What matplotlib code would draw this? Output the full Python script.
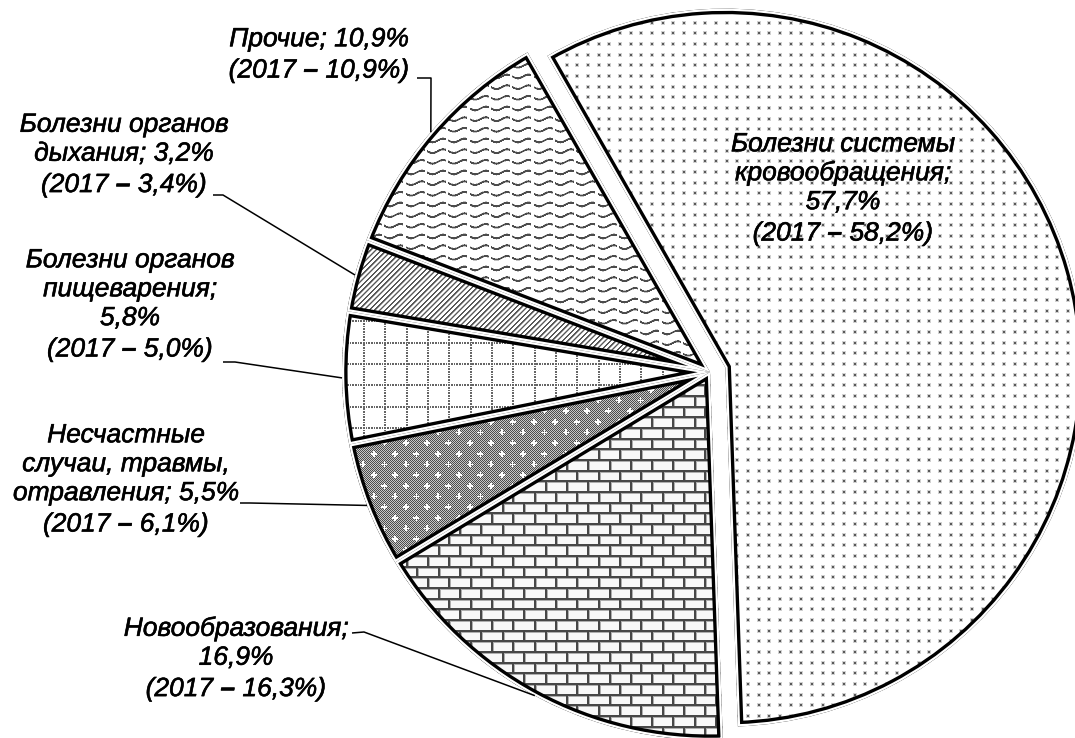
import matplotlib
matplotlib.use('Agg')
import matplotlib.pyplot as plt
from matplotlib.patches import Wedge
import matplotlib.patheffects as pe
import numpy as np

plt.rcParams['mathtext.fontset'] = 'custom'
plt.rcParams['mathtext.bf'] = 'Liberation Sans:italic:bold'
plt.rcParams['mathtext.rm'] = 'Liberation Sans:italic'
plt.rcParams['mathtext.it'] = 'Liberation Sans:italic'

# ─── data ─────────────────────────────────────────────────────────────────────

names = ['Болезни системы\nкровообращения', 'Прочие', 'Болезни органов\nдыхания',
         'Болезни органов\nпищеварения', 'Несчастные\nслучаи, травмы,\nотравления',
         'Новообразования']
share_2018 = [57.7, 10.9, 3.2, 5.8, 5.5, 16.9]
share_2017 = [58.2, 10.9, 3.4, 5.0, 6.1, 16.3]

# ─── layout (pixel coords, y from top) ────────────────────────────────────────

W, H = 1075, 738
CX, CY, R = 710, 372, 368
EXPLODE = 16          # px, first slice pulled out
name_sep = [';\n', '; ', '; ', ';\n', '; ', ';\n']
label_xy = [(843, 190), (319, 56), (124, 156), (130, 306), (126, 481), (236, 660)]
leader_from = [None, (417, 78), (213, 195), (223, 362), (240, 503), (352, 633)]
leader_elbow = [None, (431, 78), (223, 195), (235, 362), (250, 503), (364, 632)]


def pct(v):
    return f'{v:.1f}'.replace('.', ',') + '%'


labels = [f'{n}{s}{pct(a)}\n(2017' + r' $\mathbf{–}$ ' + f'{pct(b)})'
          for n, s, a, b in zip(names, name_sep, share_2018, share_2017)]

# ─── textures (Excel-like pattern fills, 8px tiles scaled 4/3) ────────────────

yy, xx = np.mgrid[0:H, 0:W].astype(float)
s = 4 / 3
T = 8 * s


def tex_dots():
    img = np.ones((H, W))
    dx, dy = (xx + 1) % T, (yy + 1) % T
    img[(dx < 4) & (dy < 4)] = 0.82
    img[(dx >= 1) & (dx < 3) & (dy >= 1) & (dy < 3)] = 0.35
    return img


def tex_wave():
    img = np.ones((H, W))
    ph = (xx % (2 * T)) / (2 * T)
    off = 1.8 * np.sin(2 * np.pi * ph)
    d = (yy - off) % T
    gap = ph > 0.88
    img[(d < 2.6) & ~gap] = 0.75
    img[(d >= 0.4) & (d < 2.2) & ~gap] = 0.3
    return img


def tex_diag():
    img = np.ones((H, W))
    d = (xx + yy) % (4 * s)
    img[d < 2.6] = 0.7
    img[(d >= 0.3) & (d < 2.0)] = 0.35
    return img


def tex_dotgrid():
    img = np.ones((H, W))
    on_v = ((xx % (2 * T)) < 2) & ((yy % (2 * s)) < 1.6)
    on_h = ((yy % (2 * T)) < 2) & ((xx % (2 * s)) < 1.6)
    img[on_v | on_h] = 0.4
    return img


def tex_sparkle():
    img = np.where(((xx + yy) % 2) == 0, 0.3, 0.78)
    row = np.floor(yy / T)
    xs = (xx + (row % 2) * T) % (2 * T)
    ys = yy % T
    plus = ((np.abs(xs - T) < 0.8) & (np.abs(ys - T / 2) < 3)) | \
           ((np.abs(ys - T / 2) < 0.8) & (np.abs(xs - T) < 3))
    img[plus] = 1.0
    return img


def tex_brick():
    img = np.full((H, W), 0.97)
    row = np.floor(yy / T)
    xs = (xx + (row % 2) * T) % (2 * T)
    ys = yy % T
    img[(ys < 3.0) | (xs < 3.0)] = 0.68
    img[(ys < 2.0) | (xs < 2.0)] = 0.28
    return img


textures = [tex_dots, tex_wave, tex_diag, tex_dotgrid, tex_sparkle, tex_brick]

# ─── figure ───────────────────────────────────────────────────────────────────

fig = plt.figure(figsize=(W / 100, H / 100), dpi=100)
ax = fig.add_axes([0, 0, 1, 1])

wedges, _ = ax.pie(share_2018, startangle=-88, counterclock=True,
                   center=(CX, H - CY), radius=R,
                   explode=[EXPLODE, 0, 0, 0, 0, 0],
                   colors=['white'] * len(share_2018),
                   wedgeprops=dict(edgecolor='none'))
# the pulled-out slice is drawn a bit smaller, as in the original
wedges[0].set_radius(R - 9)
ax.set_xlim(0, W)
ax.set_ylim(0, H)
ax.set_aspect('equal')
ax.axis('off')

for w, tex in zip(wedges, textures):
    im = ax.imshow(tex(), cmap='gray', vmin=0, vmax=1, extent=(0, W, 0, H),
                   origin='upper', interpolation='nearest', zorder=1.5)
    im.set_clip_path(w)
    # outline inset into the slice, white gap between slices
    for ec, lw, z in [('black', 8.0, 2.0), ('white', 3.2, 2.1)]:
        o = Wedge(w.center, w.r, w.theta1, w.theta2, facecolor='none',
                  edgecolor=ec, linewidth=lw, zorder=z)
        ax.add_patch(o)
        o.set_clip_path(w)

# leader lines to the middle of each slice's arc
for w, p0, p1 in zip(wedges, leader_from, leader_elbow):
    if p0 is None:
        continue
    mid = np.deg2rad((w.theta1 + w.theta2) / 2)
    px = w.center[0] + w.r * np.cos(mid)
    py = w.center[1] + w.r * np.sin(mid)
    ax.plot([p0[0], p1[0], px], [H - p0[1], H - p1[1], py],
            color='black', linewidth=1.1, zorder=3, solid_capstyle='butt')

for lab, (x, y) in zip(labels, label_xy):
    ax.text(x, H - y, lab, ha='center', va='center', fontsize=19,
            style='italic', family='Liberation Sans', linespacing=1.26, zorder=4,
            path_effects=[pe.withStroke(linewidth=0.4, foreground='black')])

fig.savefig('out.png', dpi=100)
